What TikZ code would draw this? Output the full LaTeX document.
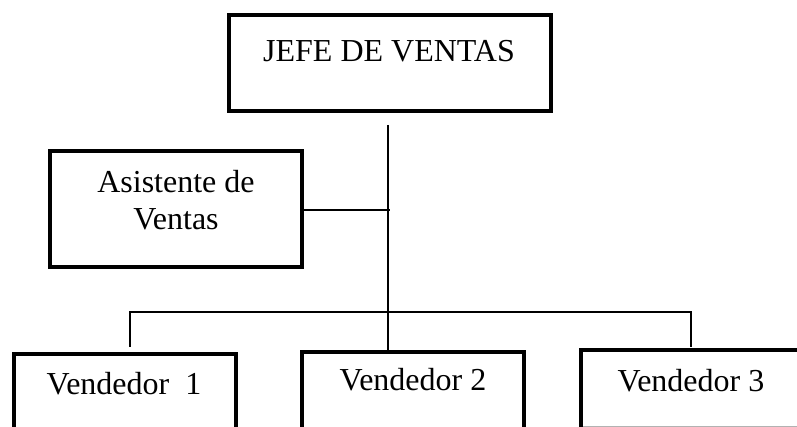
\documentclass[tikz,border=0pt]{standalone}
\usepackage{fontspec}
\setmainfont{Liberation Serif}
\begin{document}
\begin{tikzpicture}[x=0.75pt,y=-0.75pt,
  box/.style={draw=black,line width=3.6pt,rectangle,inner sep=0pt},
  lbl/.style={anchor=base,inner sep=0pt,font=\fontsize{24pt}{27.75pt}\selectfont},
  conn/.style={draw=black,line width=1.1pt}]
\useasboundingbox (0,0) rectangle (797,427);
\clip (0,0) rectangle (797,427);
% boxes
\node[box,minimum width=241.5pt,minimum height=72pt] (jefe) at (390,63) {};
\node[box,minimum width=189pt,minimum height=87pt] (asis) at (176,209) {};
\node[box,minimum width=166.5pt,minimum height=94.5pt] (v1) at (125,417) {};
\node[box,minimum width=166.5pt,minimum height=96pt] (v2) at (413,416) {};
\node[box,minimum width=165pt,minimum height=97.5pt] (v3) at (691,415) {};
% labels
\node[lbl] (tjefe) at (389,62) {JEFE DE VENTAS};
\node[lbl] (tasis1) at (176,193) {Asistente de};
\node[lbl] (tasis2) at (176,230) {Ventas};
\node[lbl] (tv1) at (124,395) {Vendedor~~1};
\node[lbl] (tv2) at (413,391) {Vendedor 2};
\node[lbl] (tv3) at (691,392) {Vendedor 3};
% connector points
\coordinate (top) at (388,125);
\coordinate (aend) at (390,210);
\coordinate (hl) at (130,312);
\coordinate (hr) at (691,312);
\coordinate (hm) at (388,312);
% connectors
\draw[conn] (top) -- (hm) -- (hm |- v2.north);
\draw[conn] (asis.east |- aend) -- (aend);
\draw[conn] (hl |- v1.north) ++(0,-5) -- (hl) -- (hr) -- ++(0,35);
\draw[draw=black!30,line width=0.8pt] (583,426.5) -- (797,426.5);
\end{tikzpicture}
\end{document}
